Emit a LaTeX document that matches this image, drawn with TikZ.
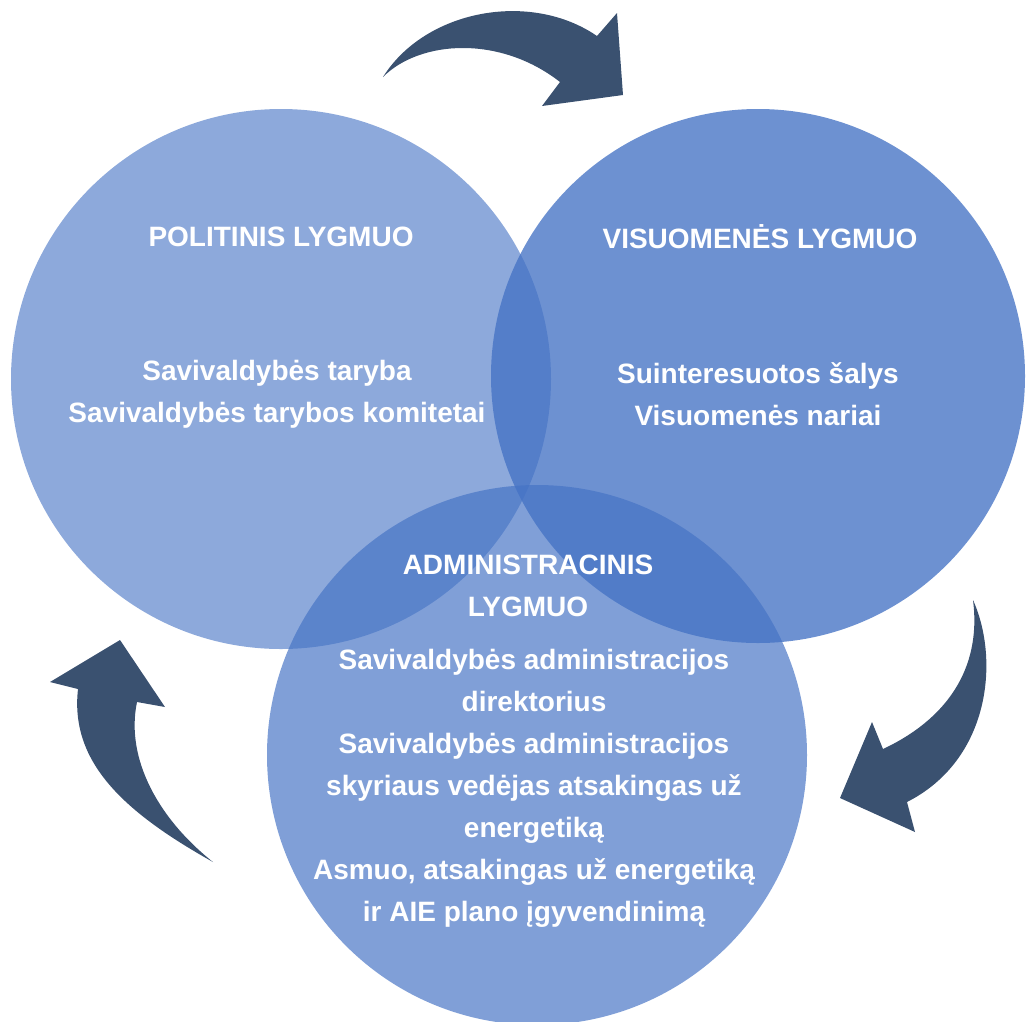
\documentclass[tikz,border=0pt]{standalone}
\usepackage{fontspec}
\setmainfont{Liberation Sans}
\usetikzlibrary{calc}
\usetikzlibrary{positioning}
\definecolor{lvlblue}{HTML}{4472C4}
\definecolor{arrowblue}{HTML}{3A5170}
\tikzset{%
  lvlcircle/.style={circle, fill=lvlblue, inner sep=0pt, minimum size=540pt},
  lvltext/.style={text=white, font=\bfseries\fontsize{28}{42}\selectfont, align=center, inner sep=0pt},
  cyclearrow/.style={fill=arrowblue}
}

\begin{document}
\begin{tikzpicture}[x=1pt, y=-1pt]

  \useasboundingbox (0,0) rectangle (1026,1021);

  \node[lvlcircle, fill opacity=0.61] (pol) at (281,379) {};
  \node[lvlcircle, fill opacity=0.78, minimum size=534pt] (vis) at (758,376) {};
  \node[lvlcircle, fill opacity=0.68] (adm) at (537,755) {};

  \node[lvltext] (polhead) at (281,237) {POLITINIS LYGMUO};
  \node[lvltext] (polbody) at (277,394) {Savivaldybės taryba\\Savivaldybės tarybos komitetai};
  \node[lvltext] (vishead) at (760,237) {VISUOMENĖS LYGMUO};
  \node[lvltext] (visbody) at (758,394) {Suinteresuotos šalys\\Visuomenės nariai};
  \node[lvltext] (admhead) at (528,586) {ADMINISTRACINIS\\LYGMUO};
  \node[lvltext] (admbody) at (534,788) {Savivaldybės administracijos\\direktorius\\Savivaldybės administracijos\\skyriaus vedėjas atsakingas už\\energetiką\\Asmuo, atsakingas už energetiką\\ir AIE plano įgyvendinimą};

  % cycle arrows
  \fill[cyclearrow] (383,77) .. controls (425,10) and (530,-10) .. (597,36)
    -- (617,13) -- (623,95) -- (542,106) -- (560,82)
    .. controls (500,35) and (420,40) .. cycle;
  \fill[cyclearrow] (973,600) .. controls (1000,660) and (990,760) .. (907,802)
    -- (915,832) -- (840,798) -- (872,722) -- (883,749)
    .. controls (945,720) and (982,670) .. cycle;
  \fill[cyclearrow] (213,862) .. controls (120,810) and (70,760) .. (78,689)
    -- (50,682) -- (120,640) -- (165,707) -- (137,702)
    .. controls (125,760) and (160,820) .. cycle;
\end{tikzpicture}
\end{document}
